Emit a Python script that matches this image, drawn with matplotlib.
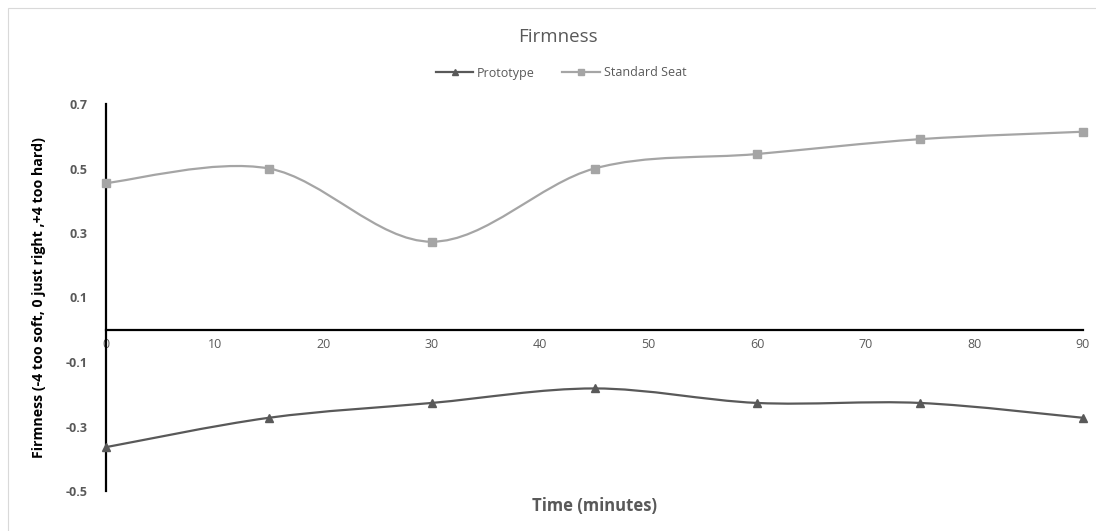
import matplotlib
matplotlib.use("Agg")
import matplotlib.pyplot as plt
from matplotlib.path import Path
from matplotlib.patches import PathPatch, Rectangle
from matplotlib.lines import Line2D
import numpy as np

plt.rcParams['font.family'] = ['Open Sans', 'DejaVu Sans']

times = [0, 15, 30, 45, 60, 75, 90]
prototype = [-0.364, -0.273, -0.227, -0.182, -0.227, -0.227, -0.273]
standard_seat = [0.455, 0.50, 0.273, 0.50, 0.545, 0.591, 0.614]
series_names = ["Prototype", "Standard Seat"]
y_ticks = [-0.5, -0.3, -0.1, 0.1, 0.3, 0.5, 0.7]
x_ticks = [0, 10, 20, 30, 40, 50, 60, 70, 80, 90]

c_proto = "#595959"
c_std = "#A5A5A5"
txt = "#595959"


def smooth_path(xs, ys):
    pts = np.column_stack([xs, ys]).astype(float)
    n = len(pts)
    verts = [pts[0]]
    codes = [Path.MOVETO]
    for i in range(n - 1):
        p0 = pts[i - 1] if i > 0 else pts[i]
        p1 = pts[i]
        p2 = pts[i + 1]
        p3 = pts[i + 2] if i + 2 < n else pts[i + 1]
        c1 = p1 + (p2 - p0) / 6.0
        c2 = p2 - (p3 - p1) / 6.0
        verts += [c1, c2, p2]
        codes += [Path.CURVE4] * 3
    return Path(verts, codes)


fig = plt.figure(figsize=(10.96, 5.31), dpi=100)
fig.patches.append(Rectangle((8 / 1096, -0.01), 1.0, 1 - 8 / 531 + 0.01,
                             transform=fig.transFigure, fill=False,
                             edgecolor="#d9d9d9", linewidth=0.8))
ax = fig.add_axes([106 / 1096, 40 / 531, (1083 - 106) / 1096, (491 - 104) / 531])

for ys, col, mk in [(prototype, c_proto, '^'), (standard_seat, c_std, 's')]:
    ax.add_patch(PathPatch(smooth_path(times, ys), facecolor='none',
                           edgecolor=col, linewidth=1.6, zorder=3))
    ax.plot(times, ys, linestyle='none', marker=mk, color=col,
            markersize=5.5, zorder=4, clip_on=False)

ax.set_xlim(0, 90)
ax.set_ylim(-0.5, 0.7)
ax.set_xticks(x_ticks)
ax.set_yticks(y_ticks)
ax.set_yticklabels([f"{v:.1f}" for v in y_ticks])
ax.tick_params(axis='both', length=0, labelsize=9, labelcolor=txt)
ax.tick_params(axis='x', pad=6)
ax.tick_params(axis='y', pad=13)
for lab in ax.get_xticklabels() + ax.get_yticklabels():
    lab.set_fontweight('bold')

for s in ['top', 'right']:
    ax.spines[s].set_visible(False)
ax.spines['bottom'].set_position(('data', 0))
ax.spines['bottom'].set_linewidth(1.6)
ax.spines['left'].set_linewidth(1.6)
ax.spines['bottom'].set_color('black')
ax.spines['left'].set_color('black')

fig.text(0.0355, (531 - 297) / 531, "Firmness (-4 too soft, 0 just right ,+4 too hard)",
         rotation=90, ha='center', va='center', fontsize=10.2, fontweight='bold',
         color='black')
fig.text(594 / 1096, (531 - 506) / 531, "Time (minutes)",
         ha='center', va='center', fontsize=12, fontweight='bold', color=txt)
fig.text(558 / 1096, (531 - 37) / 531, "Firmness", ha='center', va='center',
         fontsize=13.5, color=txt)

handles = [Line2D([], [], color=c_proto, marker='^', markersize=5, linewidth=1.6),
           Line2D([], [], color=c_std, marker='s', markersize=5, linewidth=1.6)]
fig.legend(handles, series_names, loc='center', bbox_to_anchor=(561 / 1096, (531 - 73) / 531),
           ncol=2, frameon=False, fontsize=9, labelcolor=txt, handlelength=3.0,
           columnspacing=2.2, handletextpad=0.3)

fig.savefig("out.png", dpi=100)
